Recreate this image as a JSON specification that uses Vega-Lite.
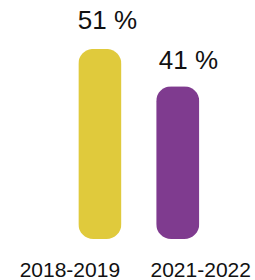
{
  "$schema": "https://vega.github.io/schema/vega-lite/v6.json",
  "width": 255,
  "height": 239,
  "padding": {"top": 0, "left": 0, "right": 0, "bottom": 41},
  "autosize": {"type": "none"},
  "background": "white",
  "config": {"view": {"stroke": null}, "font": "Liberation Sans"},
  "data": {"values": [
    {"period": "2018-2019", "share": 51, "label": "51 %"},
    {"period": "2021-2022", "share": 41, "label": "41 %"}
  ]},
  "encoding": {
    "x": {
      "field": "period", "type": "nominal", "sort": null,
      "scale": {"range": [78.3, 199.3], "paddingInner": 0.446, "paddingOuter": 0},
      "axis": {
        "title": null, "domain": false, "ticks": false, "grid": false,
        "labelFontSize": 21, "labelColor": "#111111", "labelFont": "Liberation Sans",
        "labelBaseline": "alphabetic", "labelPadding": 37, "labelAngle": 0,
        "labelOffset": {"expr": "datum.value == '2018-2019' ? -30 : 23"}
      }
    },
    "y": {
      "field": "share", "type": "quantitative",
      "scale": {"domain": [0, 64.13], "range": [239, 0], "nice": false, "zero": true},
      "axis": null
    }
  },
  "layer": [
    {
      "mark": {"type": "bar", "cornerRadius": 15},
      "encoding": {
        "color": {
          "field": "period", "type": "nominal",
          "scale": {"domain": ["2018-2019", "2021-2022"], "range": ["#E0CA3C", "#7F3B8F"]},
          "legend": null
        }
      }
    },
    {
      "mark": {"type": "text", "align": "left", "baseline": "alphabetic", "fontSize": 26, "font": "Liberation Sans", "color": "#111111",
        "dx": {"expr": "datum.period == '2018-2019' ? -22 : -19"},
        "dy": {"expr": "datum.period == '2018-2019' ? -20 : -17"}},
      "encoding": {"text": {"field": "label"}}
    }
  ]
}
